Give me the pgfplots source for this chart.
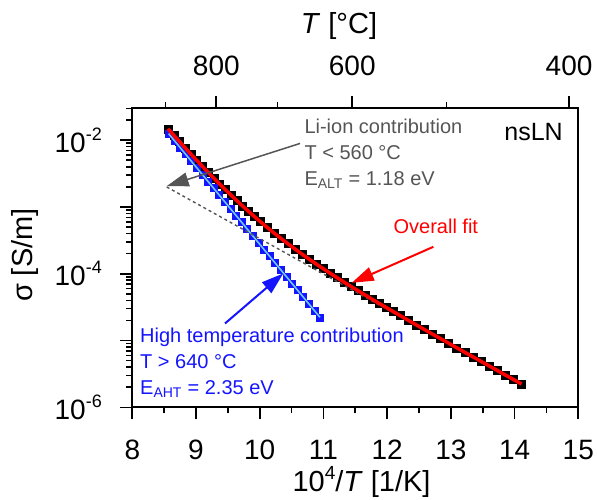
\documentclass[border=0pt]{standalone}
\usepackage{fontspec}
\setmainfont{Liberation Sans}
\usepackage{pgfplots}
\usepackage{pgfplotstable}
\pgfplotsset{compat=1.18}
\usetikzlibrary{arrows.meta}

\definecolor{fitred}{RGB}{255,0,0}
\definecolor{htblue}{RGB}{20,20,255}
\definecolor{htline}{RGB}{110,200,255}
\definecolor{ltgray}{RGB}{85,85,85}

% measured conductivity, nsLN
\pgfplotstableread{
x y
8.560 1.482e-2
8.650 1.187e-2
8.740 9.526e-3
8.830 7.670e-3
8.920 6.182e-3
9.010 5.003e-3
9.100 4.059e-3
9.190 3.303e-3
9.280 2.698e-3
9.370 2.210e-3
9.460 1.819e-3
9.550 1.500e-3
9.640 1.245e-3
9.730 1.036e-3
9.820 8.666e-4
9.910 7.271e-4
10.000 6.130e-4
10.110 5.008e-4
10.220 4.111e-4
10.330 3.394e-4
10.440 2.822e-4
10.550 2.357e-4
10.660 1.977e-4
10.770 1.669e-4
10.880 1.413e-4
10.990 1.201e-4
11.100 1.025e-4
11.210 8.776e-5
11.320 7.529e-5
11.430 6.478e-5
11.540 5.593e-5
11.650 4.833e-5
11.760 4.177e-5
11.870 3.622e-5
11.980 3.144e-5
12.090 2.727e-5
12.200 2.372e-5
12.327 2.019e-5
12.455 1.720e-5
12.582 1.467e-5
12.709 1.251e-5
12.837 1.069e-5
12.964 9.127e-6
13.091 7.797e-6
13.219 6.664e-6
13.346 5.697e-6
13.473 4.871e-6
13.601 4.167e-6
13.728 3.564e-6
13.855 3.049e-6
13.983 2.609e-6
14.110 2.233e-6
}\overall

% high temperature contribution
\pgfplotstableread{
x y
8.570 1.252e-2
8.658 9.904e-3
8.746 7.833e-3
8.834 6.196e-3
8.922 4.900e-3
9.010 3.876e-3
9.098 3.066e-3
9.186 2.425e-3
9.274 1.918e-3
9.362 1.517e-3
9.450 1.200e-3
9.538 9.489e-4
9.626 7.505e-4
9.714 5.936e-4
9.801 4.695e-4
9.889 3.713e-4
9.977 2.937e-4
10.065 2.323e-4
10.153 1.837e-4
10.241 1.453e-4
10.329 1.149e-4
10.417 9.091e-5
10.505 7.190e-5
10.593 5.687e-5
10.681 4.498e-5
10.769 3.558e-5
10.857 2.814e-5
10.945 2.226e-5
}\highT

\begin{document}
\begin{tikzpicture}
\begin{axis}[
    name=main,
    at={(0,0)}, anchor=south west,
    scale only axis,
    width=446pt, height=299pt,
    xmin=8, xmax=15,
    ymode=log, ymin=1e-6, ymax=3e-2,
    xtick={8,9,...,15},
    minor xtick={8.5,9.5,...,14.5},
    ytick={1e-6,1e-5,1e-4,1e-3,1e-2},
    yticklabels={10\raisebox{0.42em}{\fontsize{18}{18}\selectfont -6},,10\raisebox{0.42em}{\fontsize{18}{18}\selectfont -4},,10\raisebox{0.42em}{\fontsize{18}{18}\selectfont -2}},
    minor ytick={2e-6,3e-6,4e-6,5e-6,6e-6,7e-6,8e-6,9e-6,
                 2e-5,3e-5,4e-5,5e-5,6e-5,7e-5,8e-5,9e-5,
                 2e-4,3e-4,4e-4,5e-4,6e-4,7e-4,8e-4,9e-4,
                 2e-3,3e-3,4e-3,5e-3,6e-3,7e-3,8e-3,9e-3,
                 2e-2,3e-2},
    xtick pos=bottom, ytick pos=left,
    tick align=outside,
    major tick length=12pt, minor tick length=6pt,
    every tick/.style={black, line width=1.6pt},
    axis line style={line width=1.8pt},
    /pgf/number format/assume math mode=true,
    tick label style={font=\fontsize{28}{30}\selectfont},
    xticklabel style={yshift=-17pt},
    yticklabel style={xshift=-15pt},
    xlabel={10\raisebox{0.42em}{\fontsize{19}{19}\selectfont 4}/\textit{T} [1/K]},
    xlabel style={font=\fontsize{29}{32}\selectfont, anchor=base, at={(axis description cs:0.514,-0.283)}},
    ylabel={σ [S/m]},
    ylabel style={font=\fontsize{29}{32}\selectfont, anchor=center, at={(axis description cs:-0.2406,0.509)}},
    clip=false,
    clip marker paths=true,
]
\addplot[black, only marks, mark=square*, mark size=4pt] table[x=x,y=y] {\overall};
\addplot[htblue, only marks, mark=square*, mark size=3.5pt] table[x=x,y=y] {\highT};
\addplot[htline, line width=1.6pt] table[x=x,y=y] {\highT};
\addplot[ltgray, line width=1.4pt, dash pattern=on 3pt off 3pt] coordinates {(8.54,1.995e-3) (14.11,2.23e-6)};
\addplot[fitred, line width=3.5pt] table[x=x,y=y] {\overall};

\draw[ltgray, line width=1.5pt, -{Triangle[length=22pt,width=14pt]}] (axis cs:10.632,8.93e-3) -- (axis cs:8.54,2.05e-3);
\draw[fitred, line width=2pt, -{Triangle[length=22pt,width=14pt]}] (axis cs:12.725,2.53e-4) -- (axis cs:11.444,7.31e-5);
\draw[htblue, line width=2pt, -{Triangle[length=22pt,width=14pt]}] (axis cs:9.455,1.80e-5) -- (axis cs:10.370,1.01e-4);

\node[anchor=base west, text=ltgray, font=\fontsize{20}{24}\selectfont, inner sep=0pt] at (axis cs:10.70,1.259e-2) {Li-ion contribution};
\node[anchor=base west, text=ltgray, font=\fontsize{20}{24}\selectfont, inner sep=0pt] at (axis cs:10.70,5.14e-3) {T < 560 °C};
\node[anchor=base west, text=ltgray, font=\fontsize{20}{24}\selectfont, inner sep=0pt] at (axis cs:10.70,2.10e-3) {E\textsubscript{ALT} = 1.18 eV};
\node[anchor=base east, font=\fontsize{25}{28}\selectfont, inner sep=0pt] at (axis cs:14.76,1e-2) {nsLN};
\node[anchor=base, text=fitred, font=\fontsize{20}{24}\selectfont, inner sep=0pt] at (axis cs:12.764,4.01e-4) {Overall fit};
\node[anchor=base west, text=htblue, font=\fontsize{20}{24}\selectfont, inner sep=0pt] at (axis cs:8.121,9.25e-6) {High temperature contribution};
\node[anchor=base west, text=htblue, font=\fontsize{20}{24}\selectfont, inner sep=0pt] at (axis cs:8.121,3.82e-6) {T > 640 °C};
\node[anchor=base west, text=htblue, font=\fontsize{20}{24}\selectfont, inner sep=0pt] at (axis cs:8.121,1.56e-6) {E\textsubscript{AHT} = 2.35 eV};
\end{axis}

% top temperature axis
\begin{axis}[
    at={(0,0)}, anchor=south west,
    scale only axis,
    width=446pt, height=299pt,
    xmin=8, xmax=15, ymin=0, ymax=1,
    axis x line*=top, axis y line=none,
    xtick={9.3184,11.4528,14.8555},
    xticklabels={800,600,400},
    minor xtick={8.5240,10.2759,12.9341},
    tick align=outside,
    major tick length=12pt, minor tick length=6pt,
    every tick/.style={black, line width=1.6pt},
    axis line style={line width=1.8pt},
    tick label style={font=\fontsize{28}{30}\selectfont},
    xticklabel style={yshift=17pt},
    xlabel={\textit{T} [°C]},
    xlabel style={font=\fontsize{29}{32}\selectfont, anchor=base, at={(axis description cs:0.4635,1.2518)}},
]
\end{axis}

\pgfresetboundingbox
\useasboundingbox (-132.3pt,-91.7pt) rectangle (464.7pt,407.3pt);
\end{tikzpicture}
\end{document}
